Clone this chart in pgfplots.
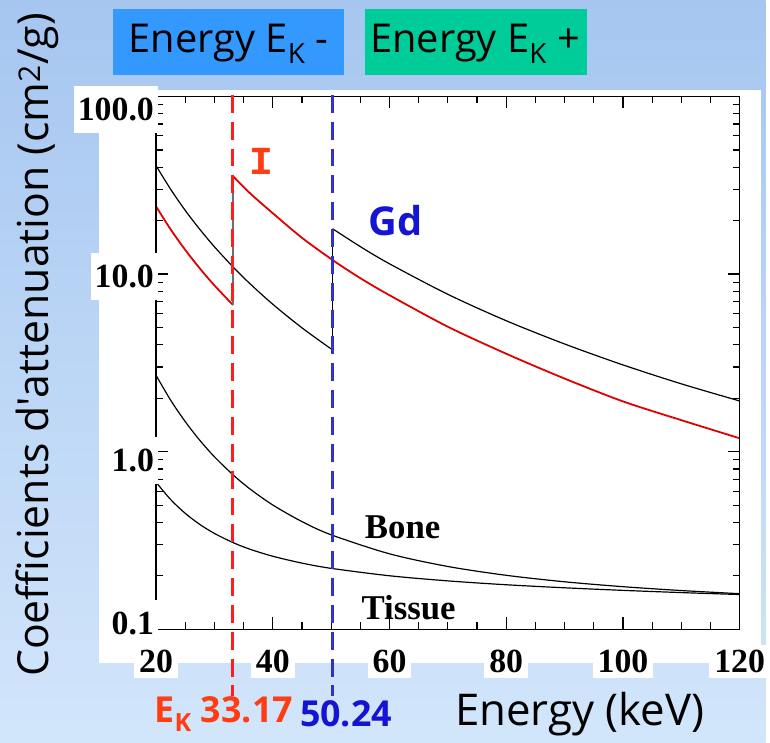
\documentclass[border=0pt]{standalone}
\usepackage{fontspec}
\setmainfont{Liberation Serif}
\newfontfamily\comic{Open Sans}
\newfontfamily\monof{Liberation Mono}
\usepackage{pgfplots}
\pgfplotsset{compat=1.18}
\definecolor{bgtop}{RGB}{166,198,240}
\definecolor{bgbot}{RGB}{210,230,251}
\definecolor{boxblue}{RGB}{51,153,255}
\definecolor{boxgreen}{RGB}{0,204,153}
\definecolor{ired}{RGB}{255,60,20}
\definecolor{gdblue}{RGB}{20,20,210}
\definecolor{dashred}{RGB}{255,30,30}
\definecolor{dashblue}{RGB}{50,50,200}
\definecolor{curvered}{RGB}{225,0,0}
\definecolor{edgegray}{RGB}{110,110,110}
\begin{document}
\begin{tikzpicture}
\shade[top color=bgtop,bottom color=bgbot] (0pt,0pt) rectangle (770pt,747pt);
\fill[white] (100pt,80pt) rectangle (765pt,656pt);
\fill[boxblue] (114pt,672pt) rectangle (346pt,738pt);
\fill[boxgreen] (367pt,672pt) rectangle (590pt,738pt);
\node[font=\comic\fontsize{40}{44}\selectfont] at (230pt,703pt) {Energy E\textsubscript{K} -};
\node[font=\comic\fontsize{40}{44}\selectfont] at (478pt,703pt) {Energy E\textsubscript{K} +};
\begin{axis}[at={(157pt,114pt)}, anchor=south west, scale only axis,
  width=587pt, height=536pt,
  xmin=20, xmax=120, ymode=log, ymin=0.1, ymax=100,
  xtick={20,40,60,80,100,120}, xticklabels={20,40,60,80,100,120},
  ytick={0.1,1,10,100}, yticklabels={},
  tick align=inside, major tick length=0pt, minor tick length=0pt,
  axis line style={draw=none},
  ticklabel style={font=\fontsize{34}{36}\selectfont\bfseries, fill=white, inner sep=5pt},
  xticklabel style={yshift=-16pt},
  clip=false,
]
% Iodine
\addplot[curvered, line width=1.8pt, smooth] coordinates {(20,24.0)(22.5,17.83)(25,13.67)(27.5,10.75)(30,8.63)(33.17,6.70)};
\addplot[edgegray, line width=1.5pt] coordinates {(33.17,6.70)(33.17,35.6)};
\addplot[curvered, line width=1.8pt, smooth] coordinates {(33.17,35.6)(36,28.7)(40,22.0)(45,16.0)(50.24,12.0)(55,9.48)(60,7.6)(70,5.05)(80,3.56)(90,2.58)(100,1.92)(110,1.505)(120,1.19)};
% Gd
\addplot[black, line width=1.2pt, smooth] coordinates {(20,40.7)(22.5,30.0)(25,22.8)(27.5,17.84)(30,14.24)(33.17,10.98)(36,8.88)(40,6.76)(45,4.98)(50.24,3.74)};
\addplot[black, line width=1.2pt] coordinates {(50.24,3.74)(50.24,18.0)};
\addplot[black, line width=1.2pt, smooth] coordinates {(50.24,18.0)(55,14.27)(60,11.42)(70,7.69)(80,5.46)(90,4.04)(100,3.08)(110,2.41)(120,1.93)};
% Bone
\addplot[black, line width=1.2pt, smooth] coordinates {(20,2.688)(22.5,1.949)(25,1.476)(27.5,1.158)(30,0.936)(33.17,0.742)(36,0.620)(40,0.501)(45,0.404)(50,0.3405)(60,0.2661)(70,0.2258)(80,0.2014)(90,0.1852)(100,0.1738)(110,0.1653)(120,0.1587)};
% Tissue
\addplot[black, line width=1.2pt, smooth] coordinates {(20,0.673)(22.5,0.5376)(25,0.4496)(27.5,0.3894)(30,0.3466)(33.17,0.308)(36,0.2831)(40,0.2578)(45,0.2359)(50,0.2204)(60,0.2002)(70,0.1874)(80,0.1782)(90,0.1713)(100,0.1657)(110,0.1610)(120,0.1570)};
% frame and ticks
\addplot[black, line width=1.6pt] coordinates {(20,0.1)(120,0.1)(120,100)(20,100)(20,0.1)};
\pgfplotsinvokeforeach{25,30,35,45,50,55,65,70,75,85,90,95,105,110,115}{
  \draw[black, line width=1.2pt] (axis cs:#1,0.1) -- ++(0pt,7pt);
  \draw[black, line width=1.2pt] (axis cs:#1,100) -- ++(0pt,-7pt);
}
\pgfplotsinvokeforeach{40,60,80,100}{
  \draw[black, line width=1.2pt] (axis cs:#1,0.1) -- ++(0pt,12pt);
  \draw[black, line width=1.2pt] (axis cs:#1,100) -- ++(0pt,-12pt);
}
\pgfplotsinvokeforeach{0.2,0.3,0.4,0.5,0.6,0.7,0.8,0.9,2,3,4,5,6,7,8,9,20,30,40,50,60,70,80,90}{
  \draw[black, line width=1.2pt] (axis cs:20,#1) -- ++(7pt,0pt);
  \draw[black, line width=1.2pt] (axis cs:120,#1) -- ++(-7pt,0pt);
}
\pgfplotsinvokeforeach{1,10}{
  \draw[black, line width=1.2pt] (axis cs:20,#1) -- ++(12pt,0pt);
  \draw[black, line width=1.2pt] (axis cs:120,#1) -- ++(-12pt,0pt);
}
% K edges
\addplot[dashred, line width=3pt, dash pattern=on 18pt off 9pt] coordinates {(33.17,102)(33.17,0.042)};
\addplot[dashblue, line width=3pt, dash pattern=on 18pt off 9pt] coordinates {(50.24,102)(50.24,0.042)};
\end{axis}
\begin{scope}[every node/.style={font=\fontsize{34}{36}\selectfont\bfseries, fill=white, anchor=east, inner xsep=4pt, inner ysep=12pt}]
\node at (159pt,637pt) {100.0};
\node at (159pt,469pt) {10.0};
\node at (159pt,284pt) {1.0};
\node at (159pt,120pt) {0.1};
\end{scope}
\node[font=\monof\bfseries\fontsize{40}{44}\selectfont, text=ired] at (263pt,585pt) {I};
\node[font=\comic\bfseries\fontsize{40}{44}\selectfont, text=gdblue] at (398pt,525pt) {Gd};
\node[font=\bfseries\fontsize{35}{38}\selectfont] at (405pt,217pt) {Bone};
\node[font=\bfseries\fontsize{35}{38}\selectfont] at (411pt,136pt) {Tissue};
\node[font=\comic\fontsize{43}{46}\selectfont, rotate=90] at (38pt,400pt) {Coefficients d'attenuation (cm\textsuperscript{2}/g)};
\node[font=\comic\fontsize{44}{48}\selectfont] at (583pt,29pt) {Energy (keV)};
\node[font=\comic\bfseries\fontsize{36}{40}\selectfont, text=ired] at (225pt,29pt) {E\textsubscript{K} 33.17};
\node[font=\comic\bfseries\fontsize{36}{40}\selectfont, text=gdblue] at (348pt,29pt) {50.24};
\end{tikzpicture}
\end{document}
